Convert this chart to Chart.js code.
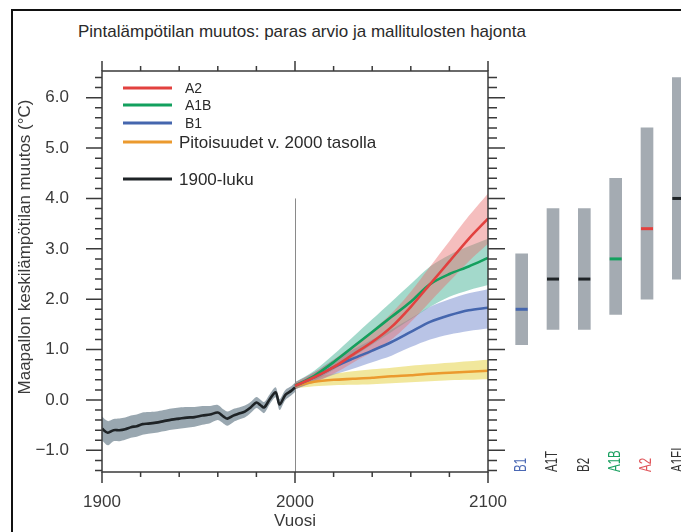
<!DOCTYPE html>
<html>
<head>
<meta charset="utf-8">
<script src="https://cdn.jsdelivr.net/npm/chart.js@4.4.1/dist/chart.umd.min.js"></script>
<style>
  html, body { margin: 0; padding: 0; background: #fff; overflow: hidden; }
  #wrap { position: relative; width: 681px; height: 532px; overflow: hidden; }
  #frame { position: absolute; left: 11px; top: 9px; width: 720px; height: 600px; border: 2px solid #111; box-sizing: border-box; }
  #title { position: absolute; left: 78px; top: 21px; font: 17px "Liberation Sans", Arial, sans-serif; line-height: 22px; color: #2a2a2a; white-space: nowrap; }
  #mainChart { position: absolute; left: 0; top: 0; }
  #rangeChart { position: absolute; left: 506px; top: 0; }
</style>
</head>
<body>
<div id="wrap">
  <div id="frame"></div>
  <div id="title">Pintalämpötilan muutos: paras arvio ja mallitulosten hajonta</div>
  <canvas id="mainChart" width="681" height="532"></canvas>
  <canvas id="rangeChart" width="188" height="532"></canvas>
</div>
<script>
////////////////////// DATA //////////////////////

// 1900-luku: mean and spread
const histYears = [1900, 1903, 1906, 1909, 1912, 1915, 1918, 1921, 1924, 1928, 1932, 1936, 1940, 1944, 1948, 1952, 1956, 1960, 1963, 1965, 1968, 1971, 1974, 1977, 1980, 1982, 1984, 1987, 1990, 1992, 1995, 1998, 2000];
const histMean = [-0.57, -0.65, -0.6, -0.6, -0.58, -0.54, -0.52, -0.48, -0.47, -0.45, -0.42, -0.39, -0.37, -0.35, -0.34, -0.31, -0.29, -0.25, -0.33, -0.37, -0.31, -0.27, -0.23, -0.15, -0.05, -0.1, -0.15, 0.02, 0.15, -0.09, 0.1, 0.18, 0.25];
const histHigh = [-0.33, -0.42, -0.38, -0.37, -0.35, -0.31, -0.29, -0.25, -0.24, -0.23, -0.2, -0.17, -0.15, -0.14, -0.14, -0.12, -0.12, -0.1, -0.19, -0.23, -0.18, -0.15, -0.11, -0.04, 0.06, 0.01, -0.04, 0.12, 0.25, 0.02, 0.2, 0.27, 0.34];
const histLow = [-0.8, -0.9, -0.82, -0.82, -0.79, -0.75, -0.73, -0.69, -0.67, -0.65, -0.62, -0.59, -0.57, -0.55, -0.53, -0.49, -0.46, -0.4, -0.47, -0.51, -0.44, -0.39, -0.35, -0.26, -0.16, -0.21, -0.26, -0.08, 0.05, -0.2, 0.0, 0.09, 0.16];

// scenarios 2000-2100
const scenYears = [2000, 2010, 2020, 2030, 2040, 2050, 2060, 2070, 2080, 2090, 2100];
const a2Mean = [0.28, 0.45, 0.65, 0.9, 1.15, 1.45, 1.85, 2.3, 2.75, 3.2, 3.6];
const a2High = [0.35, 0.55, 0.8, 1.08, 1.38, 1.72, 2.15, 2.65, 3.15, 3.65, 4.1];
const a2Low = [0.21, 0.36, 0.52, 0.74, 0.95, 1.2, 1.55, 1.95, 2.35, 2.75, 3.1];
const a1bMean = [0.28, 0.48, 0.75, 1.05, 1.35, 1.65, 1.95, 2.3, 2.5, 2.65, 2.82];
const a1bHigh = [0.35, 0.58, 0.9, 1.25, 1.6, 1.95, 2.3, 2.65, 2.88, 3.05, 3.2];
const a1bLow = [0.21, 0.38, 0.6, 0.85, 1.1, 1.35, 1.6, 1.85, 2.05, 2.18, 2.28];
const b1Mean = [0.28, 0.45, 0.65, 0.82, 0.98, 1.15, 1.35, 1.55, 1.68, 1.78, 1.83];
const b1High = [0.35, 0.55, 0.8, 1.0, 1.2, 1.4, 1.62, 1.85, 2.0, 2.12, 2.2];
const b1Low = [0.21, 0.35, 0.5, 0.62, 0.75, 0.88, 1.05, 1.2, 1.3, 1.37, 1.42];
const constMean = [0.28, 0.36, 0.4, 0.42, 0.44, 0.47, 0.49, 0.52, 0.54, 0.56, 0.58];
const constHigh = [0.33, 0.45, 0.52, 0.57, 0.61, 0.64, 0.68, 0.71, 0.74, 0.77, 0.8];
const constLow = [0.23, 0.27, 0.29, 0.3, 0.31, 0.33, 0.35, 0.37, 0.39, 0.4, 0.41];

// likely ranges and best estimates
const scenNames = ['B1', 'A1T', 'B2', 'A1B', 'A2', 'A1FI'];
const scenBest = [1.8, 2.4, 2.4, 2.8, 3.4, 4.0];
const scenLow = [1.1, 1.4, 1.4, 1.7, 2.0, 2.4];
const scenHigh = [2.9, 3.8, 3.8, 4.4, 5.4, 6.4];

const xTickValues = [1900, 2000, 2100];
const yTickValues = [-1, 0, 1, 2, 3, 4, 5, 6];
const legendLabels = ['A2', 'A1B', 'B1', 'Pitoisuudet v. 2000 tasolla', '1900-luku'];

////////////////////// STYLE //////////////////////
const yMin = -1.43, yMax = 6.53;
const FONT = '"Liberation Sans", Arial, sans-serif';
const TEXT = '#3a3a3a';
const RED = '#e2413f', GREEN = '#13a05e', BLUE = '#4566ae', ORANGE = '#eb9a2e', BLACK = '#1e2326';
const markColors = [BLUE, BLACK, BLACK, GREEN, RED, BLACK];
const nameColors = ['#4a68b4', '#333', '#333', '#1aa060', '#e0555a', '#333'];

function pts(xs, ys) {
    return xs.map((x, i) => ({ x: x, y: ys[i] }));
}

function band(label, xs, hi, lo, color, order) {
    return [
        { label: label + ' hi', data: pts(xs, hi), borderWidth: 0, pointRadius: 0, fill: '+1', backgroundColor: color, order: order, tension: 0.3 },
        { label: label + ' lo', data: pts(xs, lo), borderWidth: 0, pointRadius: 0, fill: false, order: order, tension: 0.3 }
    ];
}

function line(label, xs, ys, color, order) {
    return { label: label, data: pts(xs, ys), borderColor: color, borderWidth: 2.6, pointRadius: 0, fill: false, order: order, tension: 0.3 };
}

function fmt(v) {
    return (v < 0 ? '\u2212' : '') + Math.abs(v).toFixed(1);
}

////////////////////// MAIN CHART //////////////////////

// box, ticks on all four sides, 2000 marker, y title and legend
const decorations = {
    id: 'decorations',
    beforeDatasetsDraw(chart) {
        const { ctx, scales: { x, y } } = chart;
        const px = Math.round(x.getPixelForValue(2000)) + 0.5;
        ctx.save();
        ctx.strokeStyle = '#8a8a8a';
        ctx.lineWidth = 1;
        ctx.beginPath();
        ctx.moveTo(px, y.getPixelForValue(4.0));
        ctx.lineTo(px, y.bottom);
        ctx.stroke();
        ctx.restore();
    },
    afterDraw(chart) {
        const { ctx, chartArea: a, scales: { x, y } } = chart;
        ctx.save();
        ctx.strokeStyle = TEXT;
        ctx.lineWidth = 1.5;
        ctx.strokeRect(a.left, a.top, a.right - a.left, a.bottom - a.top);

        ctx.beginPath();
        for (let yr = 1900; yr <= 2100; yr += 20) {
            const px = x.getPixelForValue(yr);
            const big = yr % 100 === 0;
            ctx.moveTo(px, a.bottom); ctx.lineTo(px, a.bottom + (big ? 11 : 5));
            ctx.moveTo(px, a.top); ctx.lineTo(px, a.top - (big ? 10 : 5));
        }
        for (let i = -7; i <= 32; i++) {
            const py = y.getPixelForValue(i / 5);
            const big = i % 5 === 0;
            ctx.moveTo(a.left, py); ctx.lineTo(a.left - (big ? 16 : 7), py);
            ctx.moveTo(a.right, py); ctx.lineTo(a.right + (big ? 17 : 9), py);
        }
        ctx.stroke();

        // y axis title
        ctx.fillStyle = TEXT;
        ctx.font = '17px ' + FONT;
        ctx.textAlign = 'center';
        ctx.textBaseline = 'middle';
        ctx.translate(25, 247);
        ctx.rotate(-Math.PI / 2);
        ctx.fillText('Maapallon keskilämpötilan muutos (°C)', 0, 0);
        ctx.setTransform(1, 0, 0, 1, 0, 0);

        // legend
        const rows = [17, 34, 52, 71, 108];
        ctx.textAlign = 'left';
        legendLabels.forEach((lab, i) => {
            const ds = chart.data.datasets.find(d => d.label === lab);
            const ly = a.top + rows[i];
            ctx.strokeStyle = ds.borderColor;
            ctx.lineWidth = 3;
            ctx.beginPath();
            ctx.moveTo(a.left + 21, ly);
            ctx.lineTo(a.left + 70, ly);
            ctx.stroke();
            const small = i < 3;
            ctx.font = (small ? '14px ' : '17px ') + FONT;
            ctx.fillStyle = '#2a2a2a';
            ctx.fillText(lab, a.left + (small ? 83 : 77), ly + 1);
        });
        ctx.restore();
    }
};

const mainChart = new Chart(document.getElementById('mainChart'), {
    type: 'line',
    data: {
        datasets: [
            line('A2', scenYears, a2Mean, RED, 1),
            line('A1B', scenYears, a1bMean, GREEN, 2),
            line('B1', scenYears, b1Mean, BLUE, 3),
            line('Pitoisuudet v. 2000 tasolla', scenYears, constMean, ORANGE, 4),
            line('1900-luku', histYears, histMean, BLACK, 5),
            ...band('A2', scenYears, a2High, a2Low, 'rgba(232,110,110,0.45)', 6),
            ...band('A1B', scenYears, a1bHigh, a1bLow, 'rgba(50,170,140,0.45)', 7),
            ...band('B1', scenYears, b1High, b1Low, 'rgba(100,125,200,0.45)', 8),
            ...band('const', scenYears, constHigh, constLow, 'rgba(232,215,90,0.6)', 9),
            ...band('hist', histYears, histHigh, histLow, 'rgba(128,145,156,0.8)', 10)
        ]
    },
    options: {
        responsive: false,
        animation: false,
        layout: { autoPadding: false, padding: { left: 0, top: 71, right: 193, bottom: 0 } },
        plugins: { legend: { display: false }, tooltip: { enabled: false } },
        scales: {
            x: {
                type: 'linear', min: 1900, max: 2100,
                grid: { display: false }, border: { display: false },
                afterBuildTicks: s => { s.ticks = xTickValues.map(v => ({ value: v })); },
                afterFit: s => { s.height = 60; },
                ticks: { padding: 12, color: TEXT, font: { family: FONT, size: 17 }, maxRotation: 0, callback: v => String(v) },
                title: { display: true, text: 'Vuosi', color: TEXT, font: { family: FONT, size: 17 }, padding: 0 }
            },
            y: {
                type: 'linear', min: yMin, max: yMax,
                grid: { display: false }, border: { display: false },
                afterBuildTicks: s => { s.ticks = yTickValues.map(v => ({ value: v })); },
                afterFit: s => { s.width = 102; },
                ticks: { padding: 25, color: TEXT, font: { family: FONT, size: 17 }, callback: v => fmt(v) }
            }
        }
    },
    plugins: [decorations]
});

////////////////////// RANGE BARS //////////////////////

// rotated, narrow scenario names under the bars
const barLabels = {
    id: 'barLabels',
    afterDraw(chart) {
        const { ctx, scales: { x } } = chart;
        ctx.save();
        ctx.font = '16px ' + FONT;
        ctx.textAlign = 'left';
        ctx.textBaseline = 'middle';
        scenNames.forEach((name, i) => {
            ctx.setTransform(1, 0, 0, 1, 0, 0);
            ctx.translate(x.getPixelForValue(i), 472);
            ctx.rotate(-Math.PI / 2);
            ctx.scale(0.72, 1);
            ctx.fillStyle = nameColors[i];
            ctx.fillText(name, 0, 0);
        });
        ctx.restore();
    }
};

const rangeChart = new Chart(document.getElementById('rangeChart'), {
    type: 'bar',
    data: {
        labels: scenNames,
        datasets: [
            { type: 'line', data: scenBest, showLine: false, pointStyle: 'line', pointRadius: 6, pointBorderWidth: 3, pointBorderColor: markColors, order: 0 },
            { data: scenLow.map((lo, i) => [lo, scenHigh[i]]), backgroundColor: '#a4abb2', barThickness: 12, order: 1 }
        ]
    },
    options: {
        responsive: false,
        animation: false,
        layout: { autoPadding: false, padding: { left: 0, top: 71, right: 0, bottom: 60 } },
        plugins: { legend: { display: false }, tooltip: { enabled: false } },
        scales: {
            y: { display: false, min: yMin, max: yMax },
            x: { display: false }
        }
    },
    plugins: [barLabels]
});
</script>
</body>
</html>
